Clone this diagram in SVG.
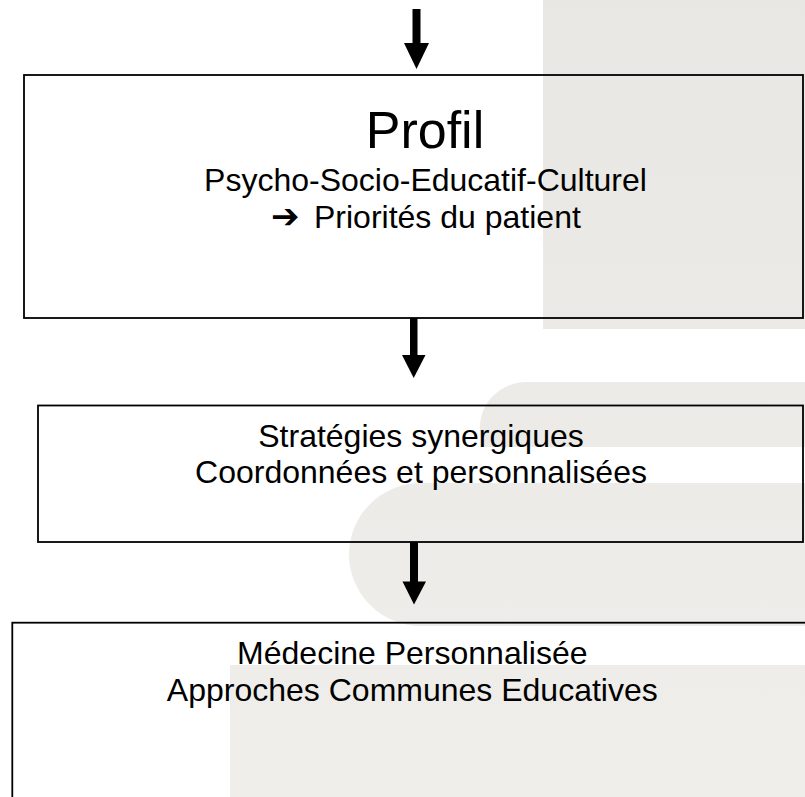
<svg xmlns="http://www.w3.org/2000/svg" width="805" height="797" viewBox="0 0 805 797">
  <defs>
    <linearGradient id="g" gradientUnits="userSpaceOnUse" x1="0" y1="0" x2="0" y2="797">
      <stop offset="0" stop-color="#e8e7e3"/>
      <stop offset="1" stop-color="#efeeeb"/>
    </linearGradient>
  </defs>
  <style>
    .bg { fill: url(#g); }
    .box { fill: none; stroke: #000; stroke-width: 1.8; }
    .t { font-family: "Liberation Sans", Arial, sans-serif; font-size: 32px; fill: #000; text-anchor: middle; }
    .big { font-size: 52px; }
    .arr { fill: #000; }
  </style>
  <rect width="805" height="797" fill="#fff"/>
  <g id="background">
    <rect class="bg" x="543" y="0" width="262" height="329"/>
    <path class="bg" d="M805 382 H527 A47 45 0 0 0 480 427 V447 H805 Z"/>
    <path class="bg" d="M805 483 H421 A72 71.5 0 0 0 349 554.5 A72 71.5 0 0 0 421 626 H805 Z"/>
    <rect class="bg" x="230" y="665" width="575" height="132"/>
  </g>
  <g id="connectors">
    <g id="arrow1">
      <rect class="arr" x="412.5" y="9" width="8" height="35"/>
      <polygon class="arr" points="404,43 429,43 416.5,69"/>
    </g>
    <g id="arrow2">
      <rect class="arr" x="410" y="318" width="7.5" height="38"/>
      <polygon class="arr" points="402,355 425.5,355 413.7,378"/>
    </g>
    <g id="arrow3">
      <rect class="arr" x="410" y="542" width="8" height="40"/>
      <polygon class="arr" points="402.5,581.5 426,581.5 414,604.5"/>
    </g>
  </g>
  <g id="profil">
    <rect class="box" x="24" y="75" width="779" height="243"/>
    <text class="t big" x="425" y="148">Profil</text>
    <text class="t" x="425.5" y="190.7">Psycho-Socio-Educatif-Culturel</text>
    <text class="t" x="271" y="228" style="text-anchor:start;font-family:'DejaVu Sans',sans-serif;font-size:34px;font-weight:bold">➔</text>
    <text class="t" x="314" y="227.7" style="text-anchor:start">Priorités du patient</text>
  </g>
  <g id="strategies">
    <rect class="box" x="38" y="405.5" width="765" height="136.5"/>
    <text class="t" x="421" y="446.7">Stratégies synergiques</text>
    <text class="t" x="421" y="483.3">Coordonnées et personnalisées</text>
  </g>
  <g id="medecine">
    <rect class="box" x="12.3" y="622.7" width="820" height="200"/>
    <text class="t" x="412.3" y="664">Médecine Personnalisée</text>
    <text class="t" x="412.3" y="701">Approches Communes Educatives</text>
  </g>
</svg>
